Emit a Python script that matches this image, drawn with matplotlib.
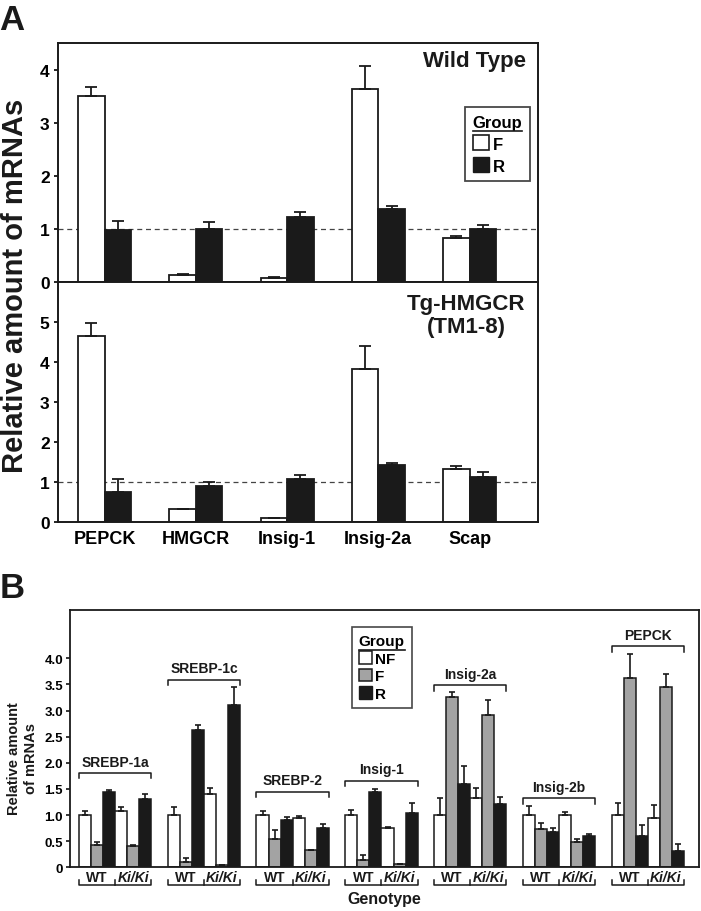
import numpy as np
import matplotlib
matplotlib.use("Agg")
import matplotlib.pyplot as plt
from matplotlib.patches import Patch
from matplotlib.transforms import blended_transform_factory

plt.rcParams['font.family'] = ['Liberation Sans', 'DejaVu Sans']
plt.rcParams['font.weight'] = 'bold'

# ---- panel A data ----
genes_a = ['PEPCK', 'HMGCR', 'Insig-1', 'Insig-2a', 'Scap']
wt_f = [3.50, 0.14, 0.08, 3.63, 0.82]
wt_f_err = [0.18, 0.02, 0.02, 0.43, 0.05]
wt_r = [0.98, 1.00, 1.22, 1.37, 1.00]
wt_r_err = [0.17, 0.13, 0.10, 0.06, 0.08]
tg_f = [4.65, 0.33, 0.10, 3.83, 1.32]
tg_f_err = [0.32, 0.0, 0.0, 0.57, 0.07]
tg_r = [0.75, 0.90, 1.08, 1.43, 1.11]
tg_r_err = [0.31, 0.09, 0.10, 0.03, 0.14]

# ---- panel B data ----
genes_b = ['SREBP-1a', 'SREBP-1c', 'SREBP-2', 'Insig-1', 'Insig-2a', 'Insig-2b', 'PEPCK']
wt_nf = [1.00, 1.00, 1.00, 1.01, 1.00, 1.00, 1.00]
wt_nf_err = [0.07, 0.16, 0.07, 0.08, 0.33, 0.17, 0.24]
wt_fb = [0.42, 0.10, 0.54, 0.14, 3.25, 0.73, 3.62]
wt_fb_err = [0.07, 0.07, 0.18, 0.10, 0.11, 0.11, 0.47]
wt_rb = [1.45, 2.63, 0.91, 1.44, 1.59, 0.67, 0.59]
wt_rb_err = [0.03, 0.09, 0.06, 0.06, 0.34, 0.09, 0.22]
ki_nf = [1.08, 1.40, 0.94, 0.75, 1.33, 1.01, 0.95]
ki_nf_err = [0.07, 0.12, 0.05, 0.03, 0.18, 0.05, 0.24]
ki_fb = [0.40, 0.04, 0.33, 0.06, 2.92, 0.48, 3.45]
ki_fb_err = [0.03, 0.01, 0.01, 0.01, 0.28, 0.06, 0.24]
ki_rb = [1.31, 3.11, 0.75, 1.04, 1.21, 0.59, 0.32]
ki_rb_err = [0.09, 0.34, 0.08, 0.20, 0.14, 0.05, 0.13]
bracket_y = [1.80, 3.59, 1.44, 1.66, 3.48, 1.32, 4.23]

W, H = 701, 912
fig = plt.figure(figsize=(W / 100, H / 100), dpi=100)


def px_axes(l, t, r, b):
    return fig.add_axes([l / W, 1 - b / H, (r - l) / W, (b - t) / H])


BLACK = '#1a1a1a'
GRAY = '#a3a3a3'

# ---------------- panel A ----------------
ax1 = px_axes(58, 44, 538, 283)
ax2 = px_axes(58, 283, 538, 522.7)
xa = np.arange(len(genes_a))
bw = 0.29
for ax, f, fe, r, re_, ymax in [(ax1, wt_f, wt_f_err, wt_r, wt_r_err, 4.5),
                               (ax2, tg_f, tg_f_err, tg_r, tg_r_err, 6.0)]:
    ax.axhline(1, color='#444444', ls=(0, (4, 3)), lw=0.9, zorder=0)
    ax.bar(xa - bw, f, bw, align='edge', color='white', edgecolor=BLACK, lw=1.3,
           yerr=[np.zeros(len(f)), fe], capsize=4.5,
           error_kw=dict(elinewidth=1.3, capthick=1.3, ecolor=BLACK), zorder=2)
    ax.bar(xa, r, bw, align='edge', color=BLACK, edgecolor=BLACK, lw=1.3,
           yerr=[np.zeros(len(r)), re_], capsize=4.5,
           error_kw=dict(elinewidth=1.3, capthick=1.3, ecolor=BLACK), zorder=2)
    ax.set_xlim(-0.51, 4.75)
    ax.set_ylim(0, ymax)
    ax.set_yticks(range(int(ymax) if ymax > 5 else 5))
    ax.tick_params(axis='y', direction='out', length=3, width=1.2, labelsize=12.5, pad=3)
    ax.tick_params(axis='x', length=0)
    for s in ax.spines.values():
        s.set_linewidth(1.4)
        s.set_color(BLACK)
ax1.set_xticks([])
ax2.set_xticks(xa)
ax2.set_xticklabels(genes_a, fontsize=13, fontweight='bold')
ax2.tick_params(axis='x', pad=6)
ax1.text(0.975, 0.925, 'Wild Type', transform=ax1.transAxes, ha='right', va='center',
         fontsize=16, fontweight='bold', color=BLACK)
ax2.text(0.85, 0.862, 'Tg-HMGCR\n(TM1-8)', transform=ax2.transAxes, ha='center', va='center',
         fontsize=16, fontweight='bold', color=BLACK, linespacing=1.15)

leg_a = ax1.legend(handles=[Patch(facecolor='white', edgecolor=BLACK, lw=1.2, label='F'),
                            Patch(facecolor=BLACK, edgecolor=BLACK, label='R')],
                   title='Group', loc='upper left', bbox_to_anchor=(0.848, 0.732),
                   fontsize=12, title_fontsize=12, frameon=True, fancybox=False,
                   handlelength=1.0, handleheight=1.0, handletextpad=0.2,
                   labelspacing=0.35, borderpad=0.45, borderaxespad=0)
leg_a.get_frame().set_edgecolor(BLACK)
leg_a.get_frame().set_linewidth(1.3)
leg_a.get_title().set_fontweight('bold')
leg_a._legend_box.align = 'left'

fig.text(15 / W, 1 - 286 / H, 'Relative amount of mRNAs', rotation=90, ha='center',
         va='center', fontsize=21, fontweight='bold', color=BLACK)
fig.text(12 / W, 1 - 20 / H, 'A', fontsize=25, fontweight='bold', ha='center', va='center',
         color=BLACK)

# ---------------- panel B ----------------
axb = px_axes(70, 610.7, 699, 868.3)
pitch = 7.35
gx = np.arange(len(genes_b)) * pitch
series = [(wt_nf, wt_nf_err, 'white'), (wt_fb, wt_fb_err, GRAY), (wt_rb, wt_rb_err, BLACK),
          (ki_nf, ki_nf_err, 'white'), (ki_fb, ki_fb_err, GRAY), (ki_rb, ki_rb_err, BLACK)]
for i, (vals, errs, col) in enumerate(series):
    axb.bar(gx + i, vals, 1.0, align='edge', color=col, edgecolor=BLACK, lw=1.1,
            yerr=[np.zeros(len(vals)), errs], capsize=2.2,
            error_kw=dict(elinewidth=1.2, capthick=1.2, ecolor=BLACK), zorder=2)
axb.set_xlim(-0.74, gx[-1] + 6 + 1.24)
axb.set_ylim(0, 4.93)
axb.set_yticks([0, 0.5, 1, 1.5, 2, 2.5, 3, 3.5, 4])
axb.set_yticklabels(['0', '0.5', '1.0', '1.5', '2.0', '2.5', '3.0', '3.5', '4.0'])
axb.tick_params(axis='y', direction='out', length=3, width=1.1, labelsize=9.5, pad=2)
axb.set_xticks([])
for s in axb.spines.values():
    s.set_linewidth(1.3)
    s.set_color(BLACK)

tick_h = 0.1
for g, name, by in zip(gx, genes_b, bracket_y):
    axb.plot([g, g, g + 6, g + 6], [by - tick_h, by, by, by - tick_h], color=BLACK,
             lw=1.1, clip_on=False)
    axb.text(g + 3, by + 0.09, name, ha='center', va='bottom', fontsize=10,
             fontweight='bold', color=BLACK)

trb = blended_transform_factory(axb.transData, axb.transAxes)
for g in gx:
    axb.text(g + 1.5, -0.036, 'WT', transform=trb, ha='center', va='center',
             fontsize=10, fontweight='bold', color=BLACK)
    axb.text(g + 4.5, -0.036, 'Ki/Ki', transform=trb, ha='center', va='center',
             fontsize=10, fontstyle='italic', fontweight='bold', color=BLACK)
    axb.plot([g, g, g + 6, g + 6], [-0.05, -0.068, -0.068, -0.05], transform=trb,
             color=BLACK, lw=1.1, clip_on=False)
    axb.plot([g + 3, g + 3], [-0.05, -0.068], transform=trb, color=BLACK, lw=1.1,
             clip_on=False)
axb.text(0.5, -0.122, 'Genotype', transform=axb.transAxes, ha='center', va='center',
         fontsize=11.5, fontweight='bold', color=BLACK)

leg_b = axb.legend(handles=[Patch(facecolor='white', edgecolor=BLACK, lw=1.1, label='NF'),
                            Patch(facecolor=GRAY, edgecolor=BLACK, lw=1.1, label='F'),
                            Patch(facecolor=BLACK, edgecolor=BLACK, label='R')],
                   title='Group', loc='upper left', bbox_to_anchor=(0.448, 0.933),
                   fontsize=11, title_fontsize=11, frameon=True, fancybox=False,
                   handlelength=0.9, handleheight=0.9, handletextpad=0.15,
                   labelspacing=0.2, borderpad=0.45, borderaxespad=0)
leg_b.get_frame().set_edgecolor(BLACK)
leg_b.get_frame().set_linewidth(1.2)
leg_b.get_title().set_fontweight('bold')
leg_b._legend_box.align = 'left'

fig.text(22.5 / W, 1 - 759 / H, 'Relative amount\nof mRNAs', rotation=90, ha='center',
         va='center', fontsize=10.5, fontweight='bold', color=BLACK, linespacing=1.35)
fig.text(12 / W, 1 - 588 / H, 'B', fontsize=25, fontweight='bold', ha='center', va='center',
         color=BLACK)

# underline legend titles
fig.canvas.draw()
for leg in (leg_a, leg_b):
    bb = leg.get_title().get_window_extent().transformed(fig.transFigure.inverted())
    fig.add_artist(plt.Line2D([bb.x0, bb.x1], [bb.y0 - 0.002, bb.y0 - 0.002],
                              transform=fig.transFigure, color=BLACK, lw=1.2))

fig.savefig('out.png', dpi=100)
